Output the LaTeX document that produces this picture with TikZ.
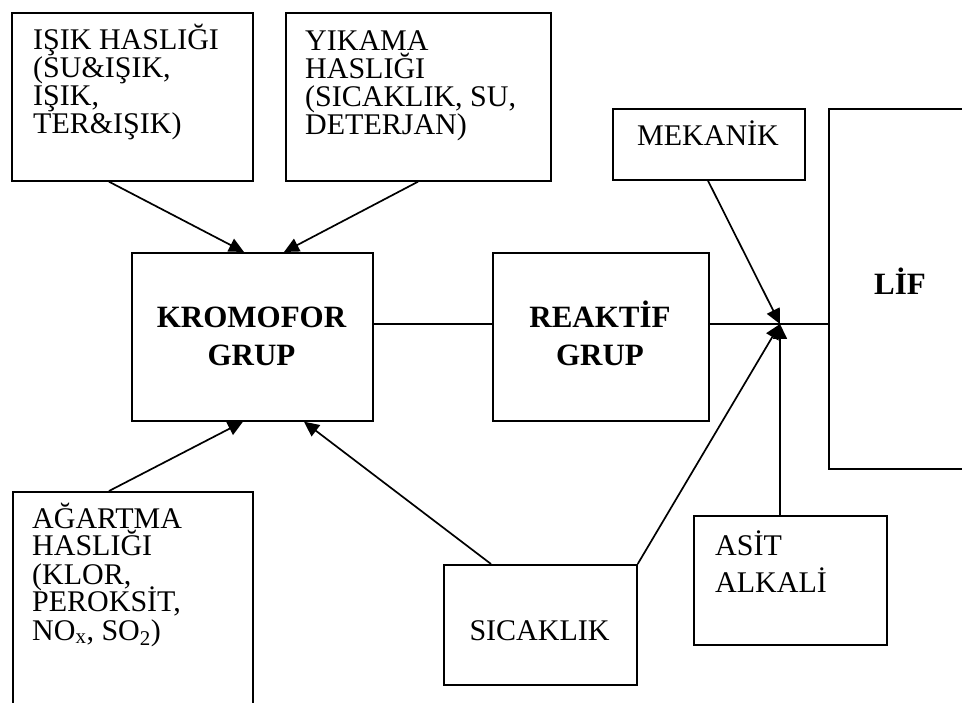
\documentclass[tikz,border=0pt]{standalone}
\usepackage{fontspec}
\setmainfont{Liberation Serif}
\usetikzlibrary{arrows.meta}
\newcommand\plines[1]{\parbox[t]{12cm}{\raggedright\lineskiplimit=-\maxdimen #1}}
\newcommand\clines[1]{\parbox[t]{10cm}{\centering\lineskiplimit=-\maxdimen #1}}
\tikzset{
  box/.style={draw, line width=1.7pt, inner sep=0pt, anchor=north west},
  txt/.style={inner sep=0pt, anchor=base west, font=\fontsize{30}{28}\selectfont},
  ctxt/.style={inner sep=0pt, anchor=base, font=\fontsize{30}{28}\selectfont},
  btxt/.style={inner sep=0pt, anchor=base, font=\fontsize{31}{38}\selectfont\bfseries},
  conn/.style={line width=1.7pt},
  arr/.style={conn, -{Triangle[length=15pt,width=14pt]}},
}
\begin{document}
\begin{tikzpicture}[x=1pt,y=-1pt]
\useasboundingbox (0,0) rectangle (962,703);
\clip (0,0) rectangle (962,703);
\fill[white] (0,0) rectangle (962,703);

% boxes
\node[box, minimum width=241pt, minimum height=168pt] (isik) at (11,12) {};
\node[box, minimum width=265pt, minimum height=168pt] (yik) at (285,12) {};
\node[box, minimum width=241pt, minimum height=168pt] (krom) at (131,252) {};
\node[box, minimum width=216pt, minimum height=168pt] (reak) at (492,252) {};
\node[box, minimum width=192pt, minimum height=71pt] (mek) at (612,108) {};
\node[box, minimum width=144pt, minimum height=360pt] (lif) at (828,108) {};
\node[box, minimum width=240pt, minimum height=250pt] (agar) at (12,491) {};
\node[box, minimum width=193pt, minimum height=120pt] (sic) at (443,564) {};
\node[box, minimum width=193pt, minimum height=129pt] (asit) at (693,515) {};

% texts
\node[txt] (isikT) at (33,50) {\plines{IŞIK HASLIĞI\\(SU\&IŞIK,\\IŞIK,\\TER\&IŞIK)}};
\node[txt] (yikT) at (305,51) {\plines{YIKAMA\\HASLIĞI\\(SICAKLIK, SU,\\DETERJAN)}};
\node[txt] (agarT) at (32,528) {\plines{AĞARTMA\\HASLIĞI\\(KLOR,\\PEROKSİT,\\NO\textsubscript{x}, SO\textsubscript{2})}};
\node[ctxt] (sicT) at (539.5,640) {SICAKLIK};
\node[txt, font=\fontsize{30}{37}\selectfont] (asitT) at (715,555) {\plines{ASİT\\ALKALİ}};
\node[ctxt] (mekT) at (708,146) {MEKANİK};
\node[btxt] (kromT) at (251.5,328) {\clines{KROMOFOR\\GRUP}};
\node[btxt] (reakT) at (600,328) {\clines{REAKTİF\\GRUP}};
\node[btxt] (lifT) at (900,295) {LİF};

% connectors
\coordinate (J) at (780,324);
\draw[conn] ([yshift=-72pt]krom.north east) -- ([yshift=-72pt]reak.north west);
\draw[conn] ([yshift=-72pt]reak.north east) -- ([yshift=-216pt]lif.north west);
\draw[arr] ([xshift=98pt]isik.south west) -- ([xshift=113pt]krom.north west);
\draw[arr] ([xshift=133pt]yik.south west) -- ([xshift=153pt]krom.north west);
\draw[arr] ([xshift=97pt]agar.north west) -- ([xshift=112pt]krom.south west);
\draw[arr] ([xshift=48pt]sic.north west) -- ([xshift=173pt]krom.south west);
\draw[arr] ([xshift=96pt]mek.south west) -- (J);
\draw[arr] (sic.north east) -- (J);
\draw[arr] ([xshift=87pt]asit.north west) -- (J);
\end{tikzpicture}
\end{document}
